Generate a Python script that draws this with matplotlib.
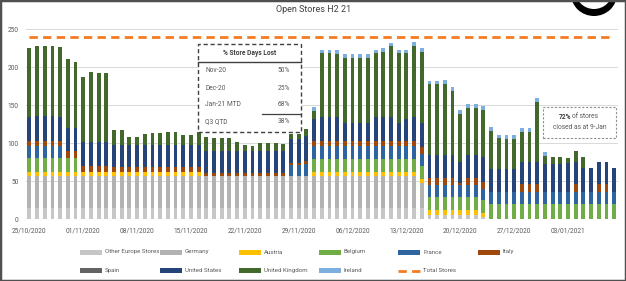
import matplotlib
matplotlib.use('Agg')
import matplotlib.pyplot as plt
import numpy as np
import datetime as dt
from matplotlib import font_manager
from matplotlib.patches import Rectangle, Ellipse
from matplotlib.lines import Line2D

# ---------------- data (one row per week, 25/10/2020 .. 09/01/2021) ----------------
start_date = "25/10/2020"
other_europe = [14,14,14,14,14,14,14, 14,14,14,14,14,14,14, 14,14,14,14,14,14,14, 14,14,14,14,14,14,14,
                14,14,14,14,14,14,14, 14,14,14,14,14,14,14, 14,14,14,14,14,14,14, 14,14,14,5,5,5,5,
                5,5,5,2,0,0,0, 0,0,0,0,0,0,0, 0,0,0,0,0,0,0]
germany = [42,42,42,42,42,42,42, 42,42,42,42,42,42,42, 42,42,42,42,42,42,42, 42,42,42,42,42,42,42,
           42,42,42,42,42,42,42, 42,42,42,42,42,42,42, 42,42,42,42,42,42,42, 42,42,33,0,0,0,0,
           0,0,0,0,0,0,0, 0,0,0,0,0,0,0, 0,0,0,0,0,0,0]
austria = [6,6,6,6,6,6,6, 6,6,6,6,6,6,6, 6,6,6,6,6,6,6, 6,6,0,0,0,0,0,
           0,0,0,0,0,0,0, 0,0,6,6,6,6,6, 6,6,6,6,6,6,6, 6,6,5,7,7,7,7,
           7,7,7,6,0,0,0, 0,0,0,0,0,0,0, 0,0,0,0,0,0,0]
belgium = [18,18,18,18,18,18,18, 0,0,0,0,0,0,0, 0,0,0,0,0,0,0, 0,0,0,0,0,0,0,
           0,0,0,0,0,0,0, 0,0,17,17,17,17,17, 17,17,17,17,17,17,17, 17,17,18,17,17,17,17,
           17,17,17,17,20,20,20, 20,20,20,20,20,20,20, 20,20,20,20,20,20,20]
france = [16,16,16,16,16,0,0, 0,0,0,0,0,0,0, 0,0,0,0,0,0,0, 0,0,0,0,0,0,0,
          0,0,0,0,0,0,15, 15,16,17,17,17,17,17, 17,17,17,17,17,17,17, 17,17,15,16,16,16,16,
          16,16,16,15,16,16,16, 16,16,16,16,16,16,16, 16,16,16,16,16,16,16]
italy = [7,7,7,7,7,10,10, 8,8,8,8,6,6,6, 6,6,6,6,6,6,6, 6,6,4,4,4,4,4,
         4,4,4,4,4,4,3, 3,4,7,7,7,7,7, 7,7,7,7,7,7,7, 7,7,10,9,9,9,9,
         3,9,9,9,0,0,0, 0,10,10,10,0,0,0, 0,10,0,0,10,10,0]
spain = [0,0,0,0,0,0,0, 0,0,0,0,0,0,0, 0,0,0,0,0,0,0, 0,0,0,0,0,0,0,
         0,0,0,0,0,0,0, 0,0,0,0,0,0,0, 0,0,0,0,0,0,0, 0,0,0,0,0,0,0,
         0,0,0,0,0,0,0, 0,0,0,0,0,0,0, 0,0,0,0,0,0,0]
united_states = [31,33,33,33,31,30,30, 31,31,31,31,29,29,29, 29,29,29,29,29,29,29, 29,29,30,30,30,30,30,
                 30,30,30,30,30,30,31, 31,33,29,31,31,31,23, 23,23,23,31,31,31,23, 29,31,31,30,30,30,30,
                 27,30,30,33,30,30,30, 30,29,29,29,36,36,36, 38,29,31,31,29,29,31]
united_kingdom = [91,92,92,92,92,90,87, 86,92,91,91,20,20,11, 11,15,16,16,17,17,13, 13,18,18,17,17,17,11,
                  7,6,10,10,10,9,7, 7,9,10,84,84,83,86, 86,86,86,84,86,93,92, 86,94,94,93,93,94,85,
                  63,62,62,62,50,40,39, 39,40,40,79,11,10,10, 6,15,14,0,0,0,0]
ireland = [0,0,0,0,0,0,0, 0,0,0,0,0,0,0, 0,0,0,0,0,0,0, 0,0,0,0,0,0,0,
           0,0,0,0,0,0,0, 0,0,5,5,5,5,5, 5,5,5,5,5,5,5, 5,5,5,5,5,5,5,
           5,5,5,5,5,5,5, 5,5,5,5,5,0,0, 0,0,0,0,0,0,0]
total_stores = [240] * 77

series_names = ["Other Europe Stores", "Germany", "Austria", "Belgium", "France", "Italy",
                "Spain", "United States", "United Kingdom", "Ireland"]
series_values = [other_europe, germany, austria, belgium, france, italy, spain,
                 united_states, united_kingdom, ireland]
series_colors = ["#C6C6C6", "#B2B2B2", "#FFC000", "#70AD47", "#2E64A0", "#9E480E",
                 "#636363", "#264478", "#43682B", "#7CAFDD"]
total_color = "#F47B20"

table_rows = [("Nov-20", "50%"), ("Dec-20", "25%"), ("Jan-21 MTD", "68%"), ("Q3 QTD", "38%")]

# ---------------- fonts ----------------
avail = {f.name for f in font_manager.fontManager.ttflist}
fam = next((f for f in ["Liberation Sans Narrow", "Roboto", "DejaVu Sans"] if f in avail), "DejaVu Sans")
plt.rcParams['font.family'] = [fam, 'DejaVu Sans']

W, H = 626, 281
def fx(px): return px / W
def fy(py): return 1 - py / H

fig = plt.figure(figsize=(W / 100, H / 100), dpi=100)
ax = fig.add_axes([fx(25.5), fy(219), (618 - 25.5) / W, (219 - 29) / H])

n = len(other_europe)
x = np.arange(n)
d0 = dt.datetime.strptime(start_date, "%d/%m/%Y")
dates = [d0 + dt.timedelta(days=int(i)) for i in x]

bottom = np.zeros(n)
for name, vals, col in zip(series_names, series_values, series_colors):
    v = np.array(vals, dtype=float)
    ax.bar(x, v, width=0.5, bottom=bottom, color=col, linewidth=0, zorder=2)
    bottom += v

ax.plot(x, total_stores, color=total_color, lw=2.0, dashes=(3.0, 1.9), zorder=3)

ax.set_xlim(-0.5, n - 0.5)
ax.set_ylim(0, 250)
ax.set_yticks(range(0, 251, 50))
ax.yaxis.grid(True, color="#D9D9D9", lw=0.7)
ax.set_axisbelow(True)
for s in ax.spines.values():
    s.set_visible(False)
tick_idx = list(range(0, n, 7))
ax.set_xticks(tick_idx)
ax.set_xticklabels([dates[i].strftime("%d/%m/%Y") for i in tick_idx])
ax.tick_params(axis='both', length=0, labelsize=4.7, colors="#595959")
ax.tick_params(axis='x', pad=6)
ax.tick_params(axis='y', pad=5)

# title
fig.text(fx(314), fy(10), "Open Stores H2 21", ha='center', va='center', fontsize=6.5, color="#404040")

# table box
fig.patches.append(Rectangle((fx(197.5), fy(131.5)), (301 - 197.5) / W, (131.5 - 43.5) / H,
                             transform=fig.transFigure, facecolor='white', edgecolor='#404040',
                             lw=1.0, ls=(0, (3, 2)), zorder=5))
fig.add_artist(Line2D([fx(197.5), fx(301)], [fy(61.5), fy(61.5)], color='#404040', lw=1.0,
                      transform=fig.transFigure, zorder=6))
fig.add_artist(Line2D([fx(262), fx(301)], [fy(114), fy(114)], color='#404040', lw=0.9,
                      transform=fig.transFigure, zorder=6))
fig.text(fx(250), fy(53), "% Store Days Lost", ha='center', va='center', fontsize=4.8,
         fontweight='bold', color='#404040', zorder=7)
for (lab, val), yy in zip(table_rows, [70, 88, 105, 122]):
    fig.text(fx(205), fy(yy), lab, ha='left', va='center', fontsize=4.8, color='#595959', zorder=7)
    fig.text(fx(290), fy(yy), val, ha='right', va='center', fontsize=4.8, color='#595959', zorder=7)

# annotation box
fig.patches.append(Rectangle((fx(543), fy(138)), (616 - 543) / W, (138 - 107) / H,
                             transform=fig.transFigure, facecolor='white', edgecolor='#909090',
                             lw=0.8, ls=(0, (2, 1.5)), zorder=5))
fig.text(fx(571), fy(117), "72%", ha='right', va='center', fontsize=4.8, fontweight='bold',
         color='#404040', zorder=7)
fig.text(fx(572.5), fy(117), "of stores", ha='left', va='center', fontsize=4.8, color='#595959', zorder=7)
fig.text(fx(579.5), fy(127.5), "closed as at 9-Jan", ha='center', va='center', fontsize=4.8,
         color='#595959', zorder=7)

# legend (Excel style, fixed column pitch)
row_y = [252, 270.5]
col_x = [80 + 79.6 * k for k in range(6)]
entries = list(zip(series_names, series_colors))
for k, (name, col) in enumerate(entries):
    r, c = divmod(k, 6)
    x0, yy = col_x[c], row_y[r]
    fig.patches.append(Rectangle((fx(x0), fy(yy + 2.5)), 22 / W, 5 / H, transform=fig.transFigure,
                                 facecolor=col, edgecolor='none'))
    fig.text(fx(x0 + 25), fy(yy), name, ha='left', va='center', fontsize=4.4, color='#595959')
x0, yy = col_x[4], row_y[1]
fig.add_artist(Line2D([fx(x0), fx(x0 + 22)], [fy(yy), fy(yy)], color=total_color, lw=2.0,
                      dashes=(3.0, 1.9), transform=fig.transFigure))
fig.text(fx(x0 + 25), fy(yy), "Total Stores", ha='left', va='center', fontsize=4.4, color='#595959')

# logo fragment (top right)
fig.patches.append(Ellipse((fx(594), fy(-6)), 46 / W, 44 / H, transform=fig.transFigure,
                           facecolor='black', edgecolor='none', zorder=8))
fig.patches.append(Ellipse((fx(594), fy(-8)), 36 / W, 34 / H, transform=fig.transFigure,
                           facecolor='white', edgecolor='none', zorder=9))

# frame
fig.patches.append(Rectangle((0, 0), 1, 1, transform=fig.transFigure, fill=False,
                             edgecolor='#505050', lw=2.5, zorder=10))

fig.savefig("out.png", dpi=100)
